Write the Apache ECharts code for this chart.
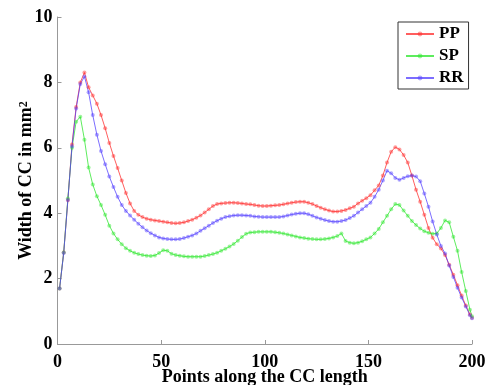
<!DOCTYPE html>
<html>
<head>
<meta charset="utf-8">
<script src="https://cdn.jsdelivr.net/npm/echarts@6/dist/echarts.min.js"></script>
<style>
  html, body { margin: 0; padding: 0; background: #fff; }
  #chart { width: 486px; height: 385px; }
</style>
</head>
<body>
<div id="chart"></div>
<script>
// x positions along the CC (odd points + last one)
const xs = [
  1, 3, 5, 7, 9, 11, 13, 15, 17, 19, 21, 23, 25, 27, 29, 31, 33, 35, 37, 39,
  41, 43, 45, 47, 49, 51, 53, 55, 57, 59, 61, 63, 65, 67, 69, 71, 73, 75, 77, 79,
  81, 83, 85, 87, 89, 91, 93, 95, 97, 99, 101, 103, 105, 107, 109, 111, 113, 115, 117, 119,
  121, 123, 125, 127, 129, 131, 133, 135, 137, 139, 141, 143, 145, 147, 149, 151, 153, 155, 157, 159,
  161, 163, 165, 167, 169, 171, 173, 175, 177, 179, 181, 183, 185, 187, 189, 191, 193, 195, 197, 199, 200
]

const ppValues = [
  1.70, 2.80, 4.40, 6.10, 7.25, 8.00, 8.30, 7.85, 7.60, 7.35, 7.00, 6.60, 6.15, 5.75, 5.38, 5.00, 4.62, 4.30, 4.07, 3.95,
  3.88, 3.83, 3.80, 3.78, 3.76, 3.74, 3.72, 3.70, 3.69, 3.70, 3.72, 3.76, 3.80, 3.86, 3.93, 4.02, 4.12, 4.22, 4.28, 4.30,
  4.31, 4.32, 4.32, 4.31, 4.30, 4.28, 4.27, 4.25, 4.23, 4.22, 4.22, 4.23, 4.24, 4.25, 4.27, 4.30, 4.32, 4.34, 4.35, 4.35,
  4.32, 4.28, 4.22, 4.17, 4.12, 4.08, 4.05, 4.05, 4.07, 4.10, 4.15, 4.20, 4.30, 4.38, 4.46, 4.55, 4.70, 4.85, 5.15, 5.55,
  5.88, 6.02, 5.95, 5.78, 5.55, 5.15, 4.72, 4.35, 3.95, 3.55, 3.25, 3.05, 2.92, 2.72, 2.42, 2.12, 1.80, 1.48, 1.18, 0.90, 0.80
]

const spValues = [
  1.70, 2.80, 4.45, 6.00, 6.80, 6.95, 6.25, 5.40, 4.88, 4.52, 4.25, 3.95, 3.62, 3.38, 3.20, 3.05, 2.93, 2.85, 2.79, 2.75,
  2.72, 2.70, 2.69, 2.71, 2.78, 2.87, 2.85, 2.76, 2.72, 2.70, 2.68, 2.67, 2.67, 2.67, 2.67, 2.69, 2.72, 2.75, 2.79, 2.85,
  2.91, 2.98, 3.06, 3.16, 3.27, 3.37, 3.41, 3.42, 3.43, 3.43, 3.43, 3.43, 3.42, 3.40, 3.38, 3.35, 3.32, 3.29, 3.26, 3.24,
  3.22, 3.21, 3.20, 3.20, 3.21, 3.23, 3.26, 3.30, 3.38, 3.15, 3.10, 3.08, 3.10, 3.14, 3.20, 3.26, 3.38, 3.52, 3.72, 3.92,
  4.12, 4.28, 4.25, 4.08, 3.92, 3.76, 3.64, 3.53, 3.45, 3.40, 3.37, 3.38, 3.55, 3.78, 3.72, 3.28, 2.85, 2.20, 1.62, 1.05, 0.85
]

const rrValues = [
  1.70, 2.78, 4.40, 6.05, 7.20, 7.95, 8.18, 7.70, 7.00, 6.40, 5.90, 5.50, 5.12, 4.80, 4.50, 4.25, 4.07, 3.93, 3.80, 3.68,
  3.57, 3.47, 3.39, 3.32, 3.26, 3.23, 3.21, 3.20, 3.20, 3.21, 3.24, 3.28, 3.32, 3.38, 3.46, 3.54, 3.62, 3.70, 3.77, 3.83,
  3.88, 3.91, 3.93, 3.94, 3.94, 3.93, 3.92, 3.90, 3.89, 3.88, 3.88, 3.88, 3.88, 3.88, 3.90, 3.93, 3.96, 3.98, 4.00, 4.00,
  3.97, 3.92, 3.87, 3.83, 3.79, 3.76, 3.74, 3.74, 3.76, 3.79, 3.85, 3.92, 4.02, 4.12, 4.22, 4.32, 4.50, 4.72, 5.00, 5.30,
  5.22, 5.08, 5.02, 5.08, 5.13, 5.15, 5.12, 4.98, 4.60, 4.20, 3.75, 3.35, 3.00, 2.77, 2.40, 2.05, 1.72, 1.42, 1.15, 0.88, 0.79
]

const seriesNames = ['PP', 'SP', 'RR']
const seriesColors = ['rgba(255,40,40,0.75)', 'rgba(40,230,40,0.75)', 'rgba(80,60,255,0.75)']

const chart = echarts.init(document.getElementById('chart'))
const font = 'Liberation Serif'

const makeSeries = (name, values, color) => ({
  name,
  type: 'line',
  data: xs.map((x, i) => [x, values[i]]),
  symbol: 'circle',
  symbolSize: 4,
  lineStyle: { color, width: 1 },
  itemStyle: { color, opacity: 0.6 },
  emphasis: { disabled: true },
  animation: false,
})

chart.setOption({
  backgroundColor: '#fff',
  grid: { left: 57.5, right: 14, top: 17, bottom: 41, outerBoundsMode: 'none', containLabel: false },
  legend: {
    orient: 'vertical',
    left: 398,
    top: 22,
    padding: [3, 5, 2, 7],
    itemGap: 4,
    itemWidth: 28,
    itemHeight: 6,
    borderColor: '#333',
    borderWidth: 1,
    data: seriesNames,
    textStyle: { fontFamily: font, fontWeight: 'bold', fontSize: 17, lineHeight: 18, color: '#000' },
  },
  xAxis: {
    type: 'value',
    min: 0,
    max: 200,
    interval: 50,
    name: 'Points along the CC length',
    nameLocation: 'middle',
    nameGap: 24,
    nameMoveOverlap: false,
    nameTextStyle: { fontFamily: font, fontWeight: 'bold', fontSize: 18, color: '#000' },
    axisLine: { lineStyle: { color: '#999' } },
    axisTick: { inside: true, length: 4, lineStyle: { color: '#999' } },
    axisLabel: { fontFamily: font, fontWeight: 'bold', fontSize: 18, color: '#000', margin: 9 },
    splitLine: { show: false },
  },
  yAxis: {
    type: 'value',
    min: 0,
    max: 10,
    interval: 2,
    name: '{a|Width of CC in mm}{s|2}',
    nameLocation: 'middle',
    nameGap: 22,
    nameMoveOverlap: false,
    nameRotate: 90,
    nameTextStyle: {
      rich: {
        a: { fontFamily: font, fontWeight: 'bold', fontSize: 18, color: '#000' },
        s: { fontFamily: font, fontWeight: 'bold', fontSize: 12, color: '#000', verticalAlign: 'top' },
      },
    },
    axisLine: { show: true, lineStyle: { color: '#999' } },
    axisTick: { show: true, inside: true, length: 4, lineStyle: { color: '#999' } },
    axisLabel: { fontFamily: font, fontWeight: 'bold', fontSize: 18, color: '#000', margin: 5 },
    splitLine: { show: false },
  },
  series: [
    makeSeries('PP', ppValues, seriesColors[0]),
    makeSeries('SP', spValues, seriesColors[1]),
    makeSeries('RR', rrValues, seriesColors[2]),
  ],
})
</script>
</body>
</html>
